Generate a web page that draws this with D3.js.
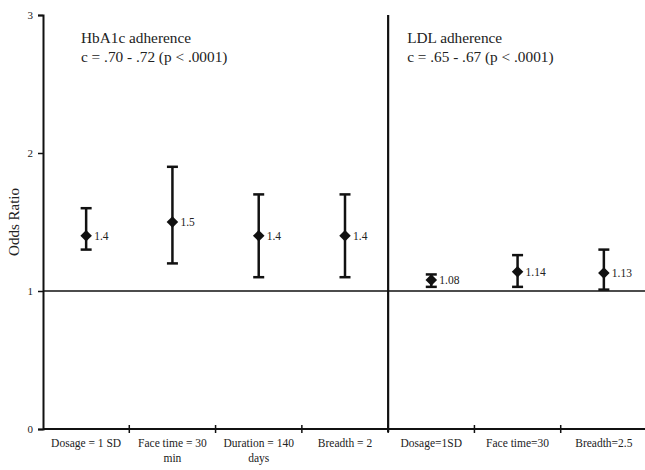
<!DOCTYPE html>
<html>
<head>
<meta charset="utf-8">
<script src="https://cdn.jsdelivr.net/npm/d3@7"></script>
</head>
<body style="margin:0; background:#fff">
<div id="chart"></div>
<script>
// odds ratios with their confidence intervals
let categories = ["Dosage = 1 SD", "Face time = 30 min", "Duration = 140 days", "Breadth = 2",
    "Dosage=1SD", "Face time=30", "Breadth=2.5"];
let oddsRatio = [1.4, 1.5, 1.4, 1.4, 1.08, 1.14, 1.13];
let lowerCI = [1.3, 1.2, 1.1, 1.1, 1.03, 1.03, 1.01];
let upperCI = [1.6, 1.9, 1.7, 1.7, 1.12, 1.26, 1.30];
let pointLabels = ["1.4", "1.5", "1.4", "1.4", "1.08", "1.14", "1.13"];
let yTicks = [0, 1, 2, 3];
let panelTitles = ["HbA1c adherence", "LDL adherence"];
let panelStats = ["c = .70 - .72 (p < .0001)", "c = .65 - .67 (p < .0001)"];
let panelStart = [0, 4];

let FONT = "Liberation Serif";
let INK = "#222";

let width = 645,
    height = 470;
let margin = {top: 15, right: 0, bottom: 41, left: 43};

let svg = d3.select("#chart").append("svg")
    .attr("width", width)
    .attr("height", height)
    .attr("font-family", FONT);

let x = d3.scaleBand()
    .domain(categories)
    .range([margin.left, 647]);

let y = d3.scaleLinear()
    .domain([0, 3])
    .range([height - margin.bottom, margin.top]);

// x axis with ticks at band boundaries
let xBase = y(0);
svg.append("line")
    .attr("x1", margin.left).attr("x2", width)
    .attr("y1", xBase).attr("y2", xBase)
    .attr("stroke", "#111").attr("stroke-width", 2);

svg.selectAll(".xtick")
    .data(categories.slice(1))
    .enter().append("line")
    .attr("class", "xtick")
    .attr("x1", d => x(d)).attr("x2", d => x(d))
    .attr("y1", xBase - 4).attr("y2", xBase + 4)
    .attr("stroke", "#111").attr("stroke-width", 1.5);

// category labels, wrapped the same way as the original
let labelLines = {
    "Face time = 30 min": ["Face time = 30", "min"],
    "Duration = 140 days": ["Duration = 140", "days"]
};
let xLabels = svg.selectAll(".xlabel")
    .data(categories)
    .enter().append("text")
    .attr("class", "xlabel")
    .attr("font-family", FONT)
    .attr("fill", INK)
    .attr("text-anchor", "middle")
    .attr("font-size", 11.5)
    .attr("y", xBase + 18);

xLabels.each(function (d) {
    let lines = labelLines[d] || [d];
    let t = d3.select(this);
    lines.forEach((ln, i) => {
        t.append("tspan")
            .attr("x", x(d) + x.bandwidth() / 2)
            .attr("dy", i ? 15 : 0)
            .text(ln);
    });
});

// y axis
let yAxis = d3.axisLeft(y)
    .tickValues(yTicks)
    .tickFormat(d3.format("d"))
    .tickSize(5)
    .tickPadding(5);

let gy = svg.append("g")
    .attr("transform", "translate(" + margin.left + ",0)")
    .call(yAxis)
    .attr("font-family", FONT);
gy.select(".domain").attr("stroke", "#111").attr("stroke-width", 2);
gy.selectAll(".tick line").attr("stroke", "#111").attr("stroke-width", 1.5);
gy.selectAll(".tick text")
    .attr("font-family", FONT)
    .attr("font-size", 11)
    .attr("fill", INK);

svg.append("text")
    .attr("transform", "translate(19," + ((y(0) + y(3)) / 2) + ") rotate(-90)")
    .attr("text-anchor", "middle")
    .attr("font-family", FONT)
    .attr("fill", INK)
    .attr("font-size", 15)
    .text("Odds Ratio");

// reference line at 1
svg.append("line")
    .attr("x1", margin.left).attr("x2", width)
    .attr("y1", y(1)).attr("y2", y(1))
    .attr("stroke", "#111").attr("stroke-width", 1.6);

// panel divider
let divX = x(categories[4]);
svg.append("line")
    .attr("x1", divX).attr("x2", divX)
    .attr("y1", y(3)).attr("y2", y(0) + 3)
    .attr("stroke", "#111").attr("stroke-width", 2.2);

// panel titles
panelTitles.forEach((t, i) => {
    let px = x(categories[panelStart[i]]) + (i ? 19 : 38);
    svg.append("text")
        .attr("x", px).attr("y", 43)
        .attr("font-family", FONT)
        .attr("fill", INK)
        .attr("font-size", 15.3)
        .text(t);
    svg.append("text")
        .attr("x", px).attr("y", 62)
        .attr("font-family", FONT)
        .attr("fill", INK)
        .attr("font-size", 15.3)
        .text(panelStats[i]);
});

// error bars
let cx = (d, i) => x(categories[i]) + x.bandwidth() / 2;
let bars = svg.append("g").selectAll("g")
    .data(oddsRatio)
    .enter().append("g");

bars.append("line")
    .attr("x1", cx).attr("x2", cx)
    .attr("y1", (d, i) => y(lowerCI[i]))
    .attr("y2", (d, i) => y(upperCI[i]))
    .attr("stroke", "#111").attr("stroke-width", 2.5);

[lowerCI, upperCI].forEach(arr => {
    bars.append("line")
        .attr("x1", (d, i) => cx(d, i) - 5.5)
        .attr("x2", (d, i) => cx(d, i) + 5.5)
        .attr("y1", (d, i) => y(arr[i]))
        .attr("y2", (d, i) => y(arr[i]))
        .attr("stroke", "#111").attr("stroke-width", 2.5);
});

bars.append("path")
    .attr("d", d3.symbol().type(d3.symbolDiamond2).size(85))
    .attr("transform", (d, i) => "translate(" + cx(d, i) + "," + y(d) + ")")
    .attr("fill", "#111");

bars.append("text")
    .attr("x", (d, i) => cx(d, i) + 8)
    .attr("y", (d) => y(d) + 4)
    .attr("font-family", FONT)
    .attr("fill", INK)
    .attr("font-size", 11.5)
    .text((d, i) => pointLabels[i]);
</script>
</body>
</html>
